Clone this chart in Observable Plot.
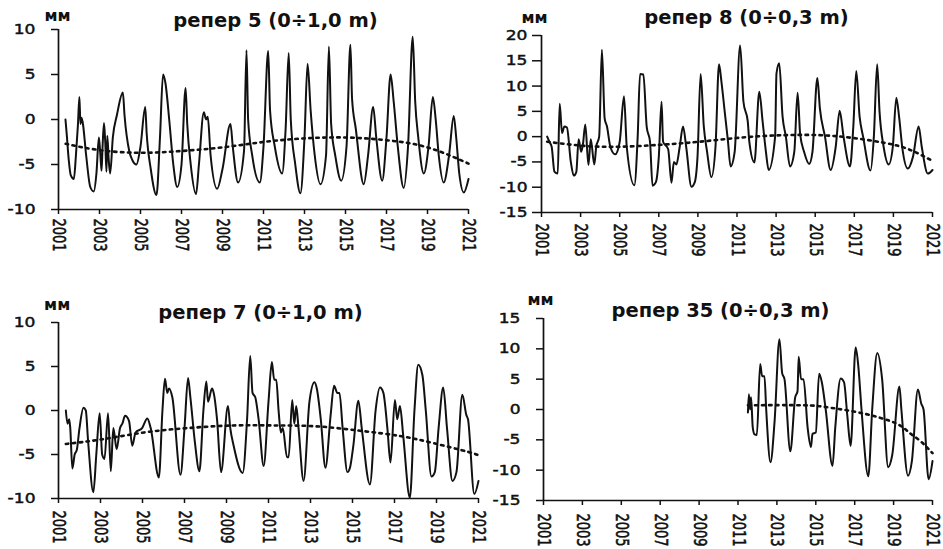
<!DOCTYPE html>
<html><head><meta charset="utf-8">
<script src="https://cdn.jsdelivr.net/npm/d3@7"></script>
<script src="https://cdn.jsdelivr.net/npm/@observablehq/plot@0.6"></script>
<style>
body{margin:0;background:#fff;}
#wrap{position:relative;width:943px;height:549px;overflow:hidden;background:#fff;}
.panel{position:absolute;}
.panel svg{background:transparent;overflow:visible;}
.panel g[aria-label="y-axis tick label"] text,
.panel g[aria-label="x-axis tick label"] text{stroke:#111;stroke-width:0.45px;}
</style></head>
<body><div id="wrap"></div>
<script>
// ---- shared tick labels ----
const xTicks = [2001, 2003, 2005, 2007, 2009, 2011, 2013, 2015, 2017, 2019, 2021];
const yTicks5 = [-10, -5, 0, 5, 10];
const yTicks8 = [-15, -10, -5, 0, 5, 10, 15, 20];
const yTicks7 = [-10, -5, 0, 5, 10];
const yTicks35 = [-15, -10, -5, 0, 5, 10, 15];
const titles = ["репер 5 (0÷1,0 m)", "репер 8 (0÷0,3 m)", "репер 7 (0÷1,0 m)", "репер 35 (0÷0,3 m)"];
const unit = "мм";

// ---- репер 5 ----
const yr5 = [2001.34,2001.40,2001.50,2001.60,2001.75,2001.85,2001.95,2002.02,2002.07,2002.12,2002.18,2002.35,2002.55,2002.72,2002.85,2002.97,2003.03,2003.10,2003.15,2003.22,2003.28,2003.34,2003.38,2003.45,2003.52,2003.65,2003.85,2004.14,2004.22,2004.45,2004.60,2004.80,2005.00,2005.23,2005.30,2005.50,2005.78,2005.95,2006.10,2006.22,2006.40,2006.60,2006.79,2007.00,2007.20,2007.28,2007.45,2007.71,2007.85,2008.09,2008.20,2008.28,2008.42,2008.74,2009.00,2009.39,2009.50,2009.76,2010.05,2010.17,2010.25,2010.45,2010.82,2011.00,2011.23,2011.32,2011.55,2011.91,2012.08,2012.23,2012.33,2012.55,2012.80,2013.00,2013.15,2013.30,2013.50,2013.78,2014.05,2014.19,2014.30,2014.50,2014.79,2015.05,2015.24,2015.32,2015.50,2015.89,2016.10,2016.35,2016.50,2016.79,2017.00,2017.20,2017.35,2017.55,2017.84,2018.05,2018.28,2018.40,2018.55,2018.82,2019.05,2019.26,2019.40,2019.55,2019.79,2020.05,2020.28,2020.40,2020.55,2020.77,2021.00];
const mm5 = [0,-1.6,-4.5,-6.2,-6.6,-4,-0.5,2.5,-0.5,0.2,-0.3,-4,-7.5,-8,-6,-2,-3.5,-5.7,-3,-0.4,-2.5,-5.8,-1.8,-4.5,-6,-2,0.5,3,0.5,-3.5,-4.5,-5,-3,1.4,-1.5,-5.5,-8.4,-2,5,4,0,-5,-7.5,-5,3.5,-0.5,-5,-8.3,-5,0.8,0,0.3,-4,-7.7,-5.5,-0.5,-3,-7,-3.5,7.7,0,-4,-7,-3,7.6,1,-3,-6,-1,7.4,0,-5,-8.2,-2,6.2,1,-4,-7.2,-4,8.1,-0.5,-4,-6.8,-3,8.3,2.3,-1,-7.2,-4,1.4,-2,-6.8,-2,5,2,-3,-7.6,-3,9.2,2,-2,-6,-3,2.5,0,-4,-7,-4,0.4,-2,-6,-8.1,-6.6];
const trendYr5 = [2001.35,2003,2005,2007,2009,2011,2013,2015,2017,2019,2021];
const trendMm5 = [-2.7,-3.4,-3.7,-3.5,-3.1,-2.5,-2.1,-2.0,-2.3,-3.1,-4.9];

// ---- репер 8 ----
const yr8 = [2001.29,2001.40,2001.52,2001.66,2001.83,2001.93,2002.05,2002.17,2002.30,2002.50,2002.65,2002.78,2002.90,2003.03,2003.12,2003.24,2003.40,2003.52,2003.70,2003.80,2003.95,2004.09,2004.23,2004.35,2004.52,2004.77,2005.00,2005.22,2005.36,2005.75,2005.92,2006.04,2006.21,2006.38,2006.55,2006.68,2006.85,2007.00,2007.14,2007.22,2007.48,2007.65,2007.77,2007.90,2008.07,2008.24,2008.40,2008.67,2008.84,2008.98,2009.14,2009.30,2009.47,2009.69,2009.90,2010.08,2010.20,2010.37,2010.54,2010.67,2010.88,2011.16,2011.33,2011.55,2011.63,2011.89,2012.14,2012.31,2012.48,2012.62,2012.95,2013.02,2013.16,2013.33,2013.50,2013.71,2013.93,2014.10,2014.23,2014.43,2014.69,2014.86,2015.11,2015.24,2015.50,2015.79,2016.05,2016.25,2016.45,2016.78,2016.95,2017.10,2017.27,2017.45,2017.83,2018.00,2018.17,2018.29,2018.50,2018.76,2018.97,2019.15,2019.30,2019.45,2019.74,2020.00,2020.29,2020.45,2020.76,2021.00];
const mm8 = [0,-1,-2,-6.9,-7.3,6.5,0.7,2,1.8,-5,-7.7,-7,-0.5,-3,-1.5,2.4,-5.6,-0.5,-5.5,-2,0,17.2,3.6,2,-2,-3.5,-1,8,-2,-9.6,0,12.4,12.3,2,-1,-9.7,-9,-4,6.9,-1,-2.5,-9.1,-5,-5.5,-2,2,-2,-9.9,-9,-4,12.4,2.1,-3,-8,-2,14.3,11,5,-1,-5.9,-3,18,6.9,3,-1,-5.1,8.9,3,-3,-6.6,0,12.5,14.5,4,0,-5.9,-3,8.7,0.5,-3,-5.4,-3,11.6,5.6,0,-6.6,-2,5.1,0,-5.9,2,13,4,0,-6.7,0,14.3,5,-2,-5.5,-2,7.7,3.6,-2,-6.3,-4,2,-2,-7.3,-6.6];
const trendYr8 = [2001.29,2004.1,2007.1,2009.1,2011.47,2013.5,2015.2,2016.8,2018.5,2019.78,2021];
const trendMm8 = [-1,-2,-1.6,-1,-0.1,0.3,0.3,-0.2,-1.2,-2.5,-4.8];

// ---- репер 7 ----
const yr7 = [2001.35,2001.43,2001.51,2001.56,2001.66,2001.77,2001.87,2002.00,2002.19,2002.30,2002.41,2002.66,2002.80,2002.96,2003.08,2003.19,2003.36,2003.49,2003.61,2003.77,2003.93,2004.04,2004.17,2004.36,2004.51,2004.67,2004.98,2005.23,2005.39,2005.78,2005.95,2006.07,2006.18,2006.26,2006.42,2006.81,2007.00,2007.17,2007.28,2007.49,2007.71,2007.90,2008.04,2008.12,2008.31,2008.39,2008.55,2008.74,2009.07,2009.18,2009.34,2009.77,2009.98,2010.13,2010.24,2010.37,2010.53,2010.77,2011.00,2011.16,2011.27,2011.37,2011.48,2011.59,2011.68,2011.88,2011.96,2012.13,2012.23,2012.32,2012.43,2012.67,2012.95,2013.19,2013.30,2013.49,2013.71,2013.96,2014.12,2014.28,2014.38,2014.53,2014.76,2014.88,2015.04,2015.28,2015.44,2015.83,2016.10,2016.31,2016.47,2016.66,2016.81,2017.02,2017.13,2017.26,2017.42,2017.73,2017.95,2018.13,2018.33,2018.49,2018.76,2018.92,2019.10,2019.32,2019.50,2019.76,2019.95,2020.23,2020.42,2020.50,2020.80,2021.00];
const mm7 = [0,-1.5,-1,-2,-6.6,-5,-4.5,-2,0.3,0,-3.5,-9.3,-5,-0.3,-5,-5.5,-0.3,-6.9,-2,-4.4,-2,-1.5,-0.6,-1.2,-4,-2.5,-2,-0.9,-2,-7.6,0,3.6,2,2.5,1.5,-7.3,-2,3.7,1.5,-3.5,-6.9,0,3.3,1,2.5,2,-1,-7,0.5,-2,-4,-7.1,-1,6.2,2,1.5,-1,-6.3,1,5.5,3.5,3.5,0,-2.5,-2,-5.3,-5.3,1.2,-1.5,0.5,-2,-8,1,3.2,2.5,-1,-6.5,-0.5,2.8,2,2,-2,-7,-6.5,-4,1.1,-2,-8.4,0,2.6,2,-2,-5.9,1.2,-1,0.5,-3,-9.9,0,5.2,4,0,-7.5,-7,-2,2.6,-2,-8,-7,1.8,-0.5,-1,-9.5,-8];
const trendYr7 = [2001.35,2003.01,2005.07,2007.13,2009.34,2011.4,2013.3,2015.36,2017.26,2018.84,2020.5,2021];
const trendMm7 = [-3.8,-3.3,-2.5,-2.0,-1.7,-1.7,-1.8,-2.3,-2.9,-3.7,-4.7,-5.1];

// ---- репер 35 ----
const yr35 = [2011.51,2011.56,2011.62,2011.67,2011.76,2011.85,2011.97,2012.14,2012.24,2012.36,2012.45,2012.67,2012.88,2013.13,2013.27,2013.39,2013.69,2013.94,2014.06,2014.12,2014.24,2014.37,2014.58,2014.75,2014.83,2015.00,2015.17,2015.31,2015.51,2015.86,2016.00,2016.28,2016.45,2016.62,2016.79,2017.05,2017.19,2017.35,2017.70,2017.90,2018.16,2018.41,2018.72,2018.93,2019.30,2019.40,2019.74,2019.94,2020.25,2020.42,2020.54,2020.80,2021.00];
const mm35 = [-0.5,2.5,0,2,-3,-4.1,-4.2,7.5,5.5,5.5,0,-8.7,-2,11.6,6,5,-6.9,2,3,8.7,5,5,-3,-6.2,-4,-3.8,5.9,4.5,0,-9.3,-3,5.1,4.5,-1,-6,10.2,7,0,-11,0,9.3,5,-9.5,-7.5,3.8,0,-10.9,-8.5,3.3,1,0,-11.5,-8.5];
const trendYr35 = [2011.51,2014.32,2015.51,2016.9,2018.24,2019.26,2019.8,2020.3,2020.7,2021];
const trendMm35 = [0.7,0.7,0.4,-0.3,-1.3,-2.5,-3.8,-5.0,-6.2,-7.2];

// horizontal stretch of text, matching the scanned original
const STRETCH = {"y-axis tick label": 1.22, "x-axis tick label": 1.32, "unit": 1.4};
function stretchTexts(svg) {
  svg.querySelectorAll("g[aria-label]").forEach(g => {
    const k = STRETCH[g.getAttribute("aria-label")];
    if (!k) return;
    g.querySelectorAll("text").forEach(t => {
      let tr = t.getAttribute("transform");
      if (!tr) {
        const x = +(t.getAttribute("x") || 0), y = +(t.getAttribute("y") || 0);
        t.removeAttribute("x"); t.removeAttribute("y");
        tr = `translate(${x},${y})`;
      }
      t.setAttribute("transform", tr + (tr.includes("rotate") ? ` scale(1,${k})` : ` scale(${k},1)`));
    });
  });
}

const panels = [
  {left: 0, top: 0, width: 480, height: 265, mL: 58, mR: 12, mT: 29, mB: 56, yTicks: yTicks5, yr: yr5, mm: mm5, tyr: trendYr5, tmm: trendMm5, title: titles[0],
   ySize: 7, yPad: 16, xPad: 4, tdx: 12, tdy: -9, udx: -1, udy: -13.5},
  {left: 470, top: 0, width: 473, height: 265, mL: 71, mR: 11, mT: 35, mB: 53, yTicks: yTicks8, yr: yr8, mm: mm8, tyr: trendYr8, tmm: trendMm8, title: titles[1],
   ySize: 9, yPad: 5, xPad: 6, tdx: 9.5, tdy: -17.7, udx: -7, udy: -17.8},
  {left: 0, top: 280, width: 490, height: 269, mL: 58, mR: 12, mT: 42, mB: 51, yTicks: yTicks7, yr: yr7, mm: mm7, tyr: trendYr7, tmm: trendMm7, title: titles[2],
   ySize: 7, yPad: 16, xPad: 7, tdx: -8, tdy: -9.4, udx: -1.3, udy: -17.2},
  {left: 470, top: 280, width: 473, height: 269, mL: 73, mR: 11, mT: 38, mB: 49, yTicks: yTicks35, yr: yr35, mm: mm35, tyr: trendYr35, tmm: trendMm35, title: titles[3],
   ySize: 7, yPad: 16, xPad: 8, tdx: -17.5, tdy: -7.4, udx: -3, udy: -18.5}
];

const wrap = document.getElementById("wrap");
for (const p of panels) {
  const series = p.yr.map((t, i) => ({t, v: p.mm[i]}));
  const trend = p.tyr.map((t, i) => ({t, v: p.tmm[i]}));
  const xDom = [xTicks[0], xTicks[xTicks.length - 1]];
  const yDom = [p.yTicks[0], p.yTicks[p.yTicks.length - 1]];
  const svg = Plot.plot({
    width: p.width, height: p.height,
    marginLeft: p.mL, marginRight: p.mR, marginTop: p.mT, marginBottom: p.mB,
    x: {type: "linear", domain: xDom},
    y: {type: "linear", domain: yDom},
    style: {fontFamily: "'DejaVu Sans', sans-serif", color: "#111", background: "transparent", overflow: "visible"},
    marks: [
      Plot.axisY({ticks: p.yTicks, tickFormat: d => String(d), tickSize: p.ySize, tickPadding: p.yPad, fontSize: 14, strokeWidth: 1.5, label: null}),
      Plot.axisX({ticks: xTicks, tickFormat: d => String(d), tickRotate: 90, tickSize: 5, tickPadding: p.xPad, fontSize: 13, strokeWidth: 1.5, label: null}),
      Plot.ruleX([xDom[0]], {stroke: "#111", strokeWidth: 1.7}),
      Plot.ruleY([yDom[0]], {stroke: "#111", strokeWidth: 1.7}),
      Plot.line(trend, {x: "t", y: "v", stroke: "#111", strokeWidth: 2.6, strokeDasharray: "2.5,4.5", curve: "natural"}),
      Plot.line(series, {x: "t", y: "v", stroke: "#111", strokeWidth: 2, curve: "monotone-x"}),
      Plot.text([p.title], {text: d => d, frameAnchor: "top", lineAnchor: "middle", dx: p.tdx, dy: p.tdy, fontSize: 19.5, fontWeight: "bold", fill: "#111", ariaLabel: "title"}),
      Plot.text([unit], {text: d => d, frameAnchor: "top-left", textAnchor: "middle", lineAnchor: "middle", dx: p.udx, dy: p.udy, fontSize: 16, fontWeight: "bold", fill: "#111", ariaLabel: "unit"})
    ]
  });
  stretchTexts(svg);
  const div = document.createElement("div");
  div.className = "panel";
  div.style.left = p.left + "px";
  div.style.top = p.top + "px";
  div.style.width = p.width + "px";
  div.style.height = p.height + "px";
  div.appendChild(svg);
  wrap.appendChild(div);
}
</script>
</body></html>
